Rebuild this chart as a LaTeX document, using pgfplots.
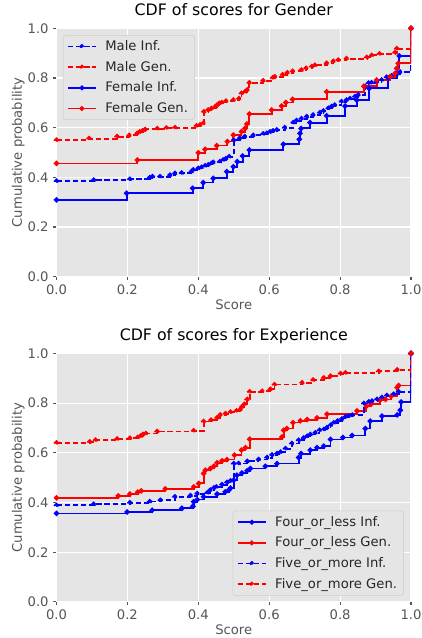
\documentclass[border=0pt]{standalone}
\usepackage{fontspec}
\setmainfont{DejaVu Sans}
\usepackage{pgfplots}
\pgfplotsset{compat=1.18}
\definecolor{ggbg}{RGB}{229,229,229}
\definecolor{ggtick}{RGB}{85,85,85}
\definecolor{mblue}{RGB}{0,0,255}
\definecolor{mred}{RGB}{255,0,0}
\pgfplotsset{
  ggplot/.style={
    scale only axis, width=269.42pt, height=188.78pt,
    xmin=0, xmax=1, ymin=0, ymax=1,
    xtick={0,0.2,0.4,0.6,0.8,1}, ytick={0,0.2,0.4,0.6,0.8,1},
    axis background/.style={fill=ggbg},
    grid=major, grid style={white, line width=0.8pt},
    axis line style={draw=none},
    tick align=outside, tick pos=left,
    major tick length=2.5pt,
    tick style={color=ggtick, line width=0.8pt},
    /pgf/number format/.cd, fixed, fixed zerofill, precision=1, assume math mode=true, /pgfplots/.cd,
    tick label style={font=\fontsize{10}{12}\selectfont, text=ggtick},
    label style={font=\fontsize{10}{12}\selectfont, text=ggtick},
    title style={font=\fontsize{12}{14}\selectfont, text=black, at={(axis description cs:0.5,1.020)}, anchor=base},
    xlabel style={at={(axis description cs:0.5,-0.132)}, anchor=base},
    ylabel style={at={(axis description cs:-0.098,0.5)}, anchor=base},
    xlabel={Score}, ylabel={Cumulative probability},
    legend cell align=left,
    legend image code/.code={
      \draw[#1, mark=none, line width=1.1pt] (0pt,0pt) -- (21.5pt,0pt);
      \draw[#1, only marks, mark size=1.1pt] plot coordinates {(10.75pt,0pt)};},
    legend style={draw=black!20, fill=ggbg, rounded corners=2pt,
      font=\fontsize{10}{12}\selectfont, text=black!85, inner xsep=3pt, inner ysep=2pt, row sep=2.6pt,
      /tikz/every odd column/.append style={column sep=4.5pt}},
    every axis plot/.append style={const plot mark left, mark=*, mark size=1.3pt, line width=1.4pt, every mark/.append style={solid}},
  },
  dsh/.style={dash pattern=on 4.2pt off 2pt},
}
\begin{document}
\begin{tikzpicture}
\begin{axis}[ggplot, at={(42.94pt,-21.51pt)}, anchor=north west,
  title={CDF of scores for Gender},
  legend style={at={(axis description cs:0.018,0.973)}, anchor=north west}]
\addplot[mblue, dsh, mark options={fill=mblue}] coordinates {
(0,0.385)(0.105,0.389)(0.207,0.392)(0.263,0.399)(0.271,0.403)(0.292,0.403)(0.320,0.409)(0.334,0.416)(0.353,0.417)(0.381,0.423)(0.386,0.430)(0.400,0.436)(0.409,0.440)(0.419,0.446)(0.428,0.450)(0.437,0.456)(0.442,0.460)(0.461,0.463)(0.470,0.470)(0.478,0.475)(0.487,0.483)(0.500,0.550)(0.517,0.558)(0.531,0.564)(0.555,0.569)(0.583,0.575)(0.593,0.577)(0.602,0.583)(0.611,0.587)(0.621,0.591)(0.644,0.600)(0.668,0.620)(0.677,0.628)(0.691,0.636)(0.706,0.644)(0.724,0.651)(0.743,0.660)(0.753,0.667)(0.767,0.678)(0.776,0.685)(0.785,0.691)(0.804,0.705)(0.818,0.711)(0.828,0.717)(0.842,0.725)(0.851,0.732)(0.870,0.765)(0.880,0.779)(0.889,0.781)(0.903,0.785)(0.917,0.792)(0.931,0.803)(0.945,0.808)(0.960,0.816)(0.969,0.824)(1,1)};
\addlegendentry{Male Inf.}
\addplot[mred, dsh, mark options={fill=mred}] coordinates {
(0,0.550)(0.092,0.556)(0.171,0.564)(0.205,0.569)(0.228,0.577)(0.235,0.583)(0.243,0.588)(0.250,0.593)(0.284,0.596)(0.310,0.599)(0.334,0.600)(0.395,0.607)(0.405,0.611)(0.414,0.617)(0.416,0.664)(0.428,0.671)(0.437,0.677)(0.447,0.682)(0.452,0.690)(0.459,0.698)(0.466,0.701)(0.478,0.707)(0.499,0.711)(0.515,0.717)(0.522,0.738)(0.532,0.744)(0.538,0.752)(0.544,0.781)(0.583,0.789)(0.610,0.800)(0.616,0.805)(0.638,0.813)(0.651,0.821)(0.666,0.827)(0.691,0.832)(0.704,0.839)(0.720,0.846)(0.729,0.851)(0.762,0.859)(0.781,0.867)(0.795,0.872)(0.818,0.878)(0.875,0.883)(0.889,0.891)(0.911,0.897)(0.955,0.902)(0.960,0.918)(1,1)};
\addlegendentry{Male Gen.}
\addplot[mblue, mark options={fill=mblue}] coordinates {
(0,0.309)(0.198,0.336)(0.384,0.356)(0.414,0.379)(0.442,0.396)(0.480,0.423)(0.499,0.443)(0.510,0.463)(0.525,0.486)(0.544,0.510)(0.640,0.533)(0.685,0.553)(0.687,0.577)(0.690,0.597)(0.715,0.620)(0.762,0.648)(0.814,0.687)(0.847,0.711)(0.882,0.758)(0.936,0.799)(0.960,0.838)(0.967,0.889)(1,1)};
\addlegendentry{Female Inf.}
\addplot[mred, mark options={fill=mred}] coordinates {
(0,0.456)(0.228,0.470)(0.400,0.499)(0.419,0.513)(0.452,0.528)(0.482,0.544)(0.499,0.570)(0.522,0.584)(0.532,0.597)(0.537,0.615)(0.544,0.655)(0.607,0.671)(0.635,0.687)(0.647,0.701)(0.666,0.714)(0.762,0.745)(0.867,0.767)(0.903,0.792)(0.941,0.805)(0.955,0.819)(0.960,0.839)(0.964,0.859)(1,1)};
\addlegendentry{Female Gen.}
\end{axis}
\begin{axis}[ggplot, at={(42.94pt,-268.66pt)}, anchor=north west,
  title={CDF of scores for Experience},
  legend style={at={(axis description cs:0.980,0.025)}, anchor=south east}]
\addplot[mblue, mark options={fill=mblue}] coordinates {
(0,0.356)(0.199,0.362)(0.270,0.369)(0.354,0.377)(0.385,0.385)(0.387,0.403)(0.397,0.412)(0.415,0.423)(0.453,0.434)(0.476,0.443)(0.486,0.450)(0.491,0.458)(0.500,0.490)(0.509,0.510)(0.523,0.519)(0.538,0.528)(0.547,0.537)(0.589,0.546)(0.622,0.557)(0.683,0.581)(0.690,0.597)(0.716,0.611)(0.735,0.621)(0.754,0.627)(0.773,0.654)(0.808,0.662)(0.834,0.670)(0.871,0.698)(0.885,0.728)(0.918,0.748)(0.961,0.753)(0.970,0.772)(0.972,0.805)(1,1)};
\addlegendentry{Four\_or\_less Inf.}
\addplot[mred, mark options={fill=mred}] coordinates {
(0,0.419)(0.174,0.427)(0.207,0.434)(0.229,0.442)(0.239,0.447)(0.307,0.455)(0.387,0.463)(0.401,0.477)(0.415,0.517)(0.420,0.530)(0.434,0.537)(0.444,0.546)(0.453,0.560)(0.467,0.568)(0.481,0.573)(0.502,0.591)(0.522,0.611)(0.533,0.621)(0.545,0.655)(0.636,0.664)(0.641,0.691)(0.650,0.698)(0.667,0.722)(0.688,0.729)(0.707,0.734)(0.735,0.741)(0.763,0.756)(0.848,0.769)(0.874,0.788)(0.887,0.796)(0.912,0.812)(0.928,0.815)(0.944,0.828)(0.961,0.863)(0.965,0.871)(1,1)};
\addlegendentry{Four\_or\_less Gen.}
\addplot[mblue, dsh, mark options={fill=mblue}] coordinates {
(0,0.389)(0.105,0.393)(0.207,0.399)(0.263,0.404)(0.293,0.409)(0.334,0.423)(0.378,0.428)(0.397,0.436)(0.425,0.439)(0.434,0.450)(0.444,0.459)(0.451,0.463)(0.467,0.472)(0.481,0.481)(0.491,0.487)(0.500,0.557)(0.514,0.557)(0.538,0.566)(0.570,0.573)(0.594,0.581)(0.608,0.592)(0.622,0.597)(0.632,0.603)(0.646,0.617)(0.664,0.638)(0.683,0.651)(0.697,0.660)(0.707,0.667)(0.716,0.674)(0.730,0.681)(0.742,0.691)(0.754,0.694)(0.763,0.702)(0.773,0.711)(0.782,0.721)(0.793,0.728)(0.805,0.736)(0.815,0.745)(0.824,0.748)(0.834,0.752)(0.867,0.799)(0.881,0.805)(0.890,0.808)(0.904,0.815)(0.918,0.823)(0.932,0.831)(0.951,0.836)(0.965,0.846)(1,1)};
\addlegendentry{Five\_or\_more Inf.}
\addplot[mred, dsh, mark options={fill=mred}] coordinates {
(0,0.640)(0.094,0.644)(0.110,0.651)(0.171,0.656)(0.207,0.659)(0.229,0.662)(0.237,0.667)(0.244,0.674)(0.252,0.678)(0.284,0.686)(0.387,0.689)(0.415,0.726)(0.436,0.732)(0.453,0.741)(0.462,0.753)(0.477,0.758)(0.491,0.764)(0.508,0.769)(0.519,0.775)(0.523,0.785)(0.530,0.796)(0.538,0.815)(0.545,0.846)(0.580,0.848)(0.603,0.856)(0.615,0.875)(0.693,0.882)(0.724,0.893)(0.754,0.902)(0.773,0.909)(0.801,0.919)(0.815,0.922)(0.909,0.928)(0.961,0.934)(1,1)};
\addlegendentry{Five\_or\_more Gen.}
\end{axis}
\pgfresetboundingbox
\useasboundingbox (0,0) rectangle (320.72pt,-484.88pt);
\end{tikzpicture}
\end{document}
